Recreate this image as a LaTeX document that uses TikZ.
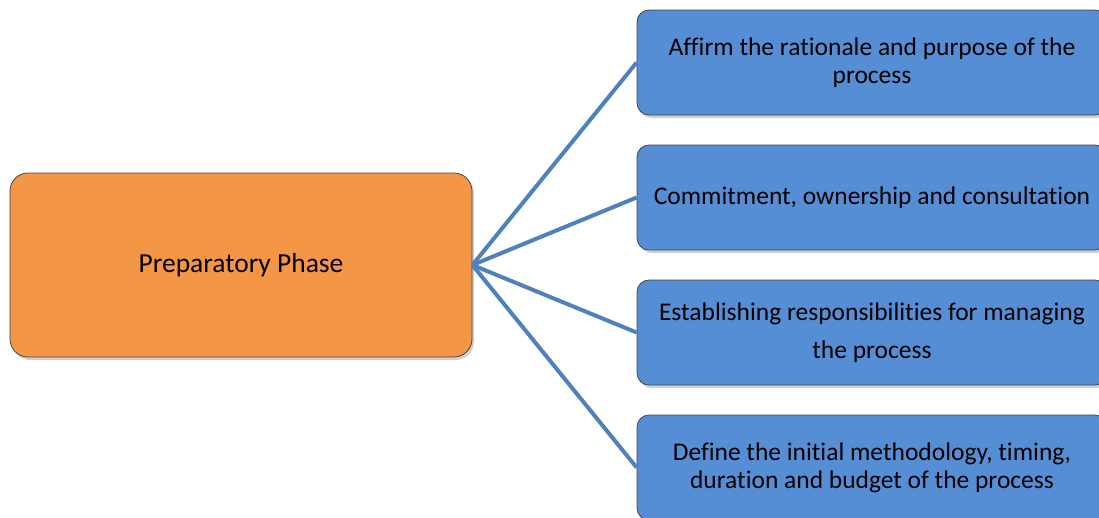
\documentclass[tikz,border=0pt]{standalone}
\usepackage{fontspec}
\setmainfont[Ligatures=CommonOff]{Carlito}
\usetikzlibrary{shadows}
\definecolor{phaseorange}{RGB}{243,150,70}
\definecolor{stepblue}{RGB}{85,142,213}
\definecolor{linkblue}{RGB}{79,129,189}
\definecolor{edgegray}{RGB}{70,70,70}
\begin{document}
\begin{tikzpicture}[x=1pt,y=-1pt,
  boxbase/.style={draw=edgegray, line width=0.8pt,
    drop shadow={shadow xshift=2pt, shadow yshift=-3pt, opacity=0.3, fill=black!60},
    align=center, text=black, inner sep=0pt},
  phasebox/.style={boxbase, fill=phaseorange, minimum width=462pt, minimum height=184pt,
    rounded corners=18pt, font=\fontsize{27.5}{33}\selectfont},
  itembox/.style={boxbase, fill=stepblue, minimum width=470pt, minimum height=105pt,
    rounded corners=12pt, font=\fontsize{25.5}{28}\selectfont},
  link/.style={draw=linkblue, line width=4pt}]
\useasboundingbox (0,0) rectangle (1099,517);
\clip (0,0) rectangle (1099,517);

\node[phasebox] (phase) at (241,265) {Preparatory Phase};

\node[itembox] (s1) at (872,62.5) {Affirm the rationale and purpose of the\\process};
\node[itembox] (s2) at (872,197.5) {Commitment, ownership and consultation};
\node[itembox] (s3) at (872,332.5) {Establishing responsibilities for managing\\[10pt]the process};
\node[itembox] (s4) at (872,467.5) {Define the initial methodology, timing,\\duration and budget of the process};

\foreach \s in {s1,s2,s3,s4}
  \draw[link] (phase.east) -- (\s.west);
\end{tikzpicture}
\end{document}
